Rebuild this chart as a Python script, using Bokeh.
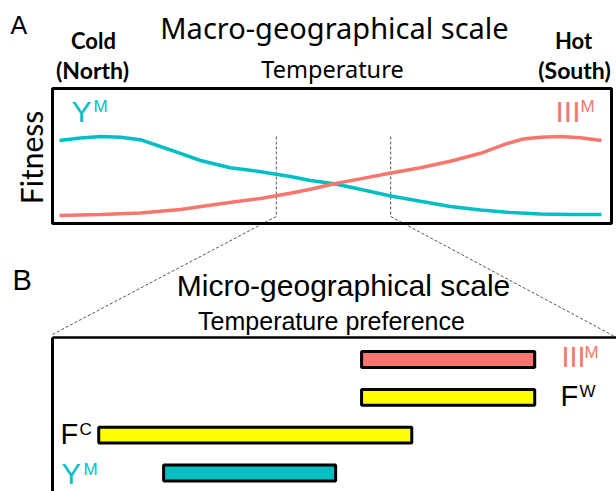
from bokeh.plotting import figure
from bokeh.models import Range1d, ColumnDataSource
from bokeh.core.properties import value
from bokeh.embed import file_html
from bokeh.resources import INLINE

# ---------------- data ----------------
# Panel A: fitness along the macro-geographical temperature gradient (0 = cold/north, 100 = hot/south)
temperature = [0, 3.9, 7.6, 11.3, 14.9, 18.6, 22.3, 26.0, 31.5, 37.1, 42.6, 46.3, 50.7,
               55.5, 60.9, 66.6, 72.1, 77.7, 83.2, 88.7, 94.3, 100]
fitness_YM = [0.95, 0.98, 1.0, 0.99, 0.96, 0.875, 0.79, 0.70, 0.61, 0.56, 0.50, 0.45, 0.41,
              0.34, 0.26, 0.19, 0.125, 0.08, 0.05, 0.03, 0.025, 0.025]
temperature_red = [0, 7.6, 14.9, 22.3, 29.7, 37.1, 42.6, 46.3, 50.7, 55.5, 60.9, 66.6,
                   72.1, 77.7, 82.5, 85.6, 88.7, 92.4, 96.1, 100]
fitness_IIIM = [0.0125, 0.025, 0.045, 0.0875, 0.16, 0.225, 0.29, 0.34, 0.41, 0.47, 0.54,
                0.61, 0.69, 0.79, 0.91, 0.97, 0.99, 1.0, 0.985, 0.95]
zoom_window = [40.0, 61.1]   # temperatures marking the micro-geographical window

# Panel B: temperature preference ranges (0-100 across the panel)
groups = ["III", "F", "F", "Y"]
group_sup = ["M", "W", "C", "M"]
pref_low = [54.8, 54.8, 8.2, 19.7]
pref_high = [85.5, 85.5, 63.7, 50.2]
row = [1, 2, 3, 4]
bar_colors = ["#F8766D", "#FFFF00", "#FFFF00", "#00BFC4"]

TEAL = "#00BFC4"
RED = "#F8766D"

# ---------------- figure (layout coords = picture pixels) ----------------
W, H = 616, 491
X0, X1 = 0, 616
Y0, Y1 = 491, 0
p = figure(width=W, height=H, output_backend="svg", toolbar_location=None,
           x_range=Range1d(X0, X1), y_range=Range1d(Y0, Y1),
           min_border=0, outline_line_color=None)
p.xaxis.visible = False
p.yaxis.visible = False
p.grid.visible = False
p.background_fill_color = "white"


def fit_range(d0, d1, p0, p1, P0, P1):
    k = (d1 - d0) / (p1 - p0)
    return Range1d(start=d0 + (P0 - p0) * k, end=d0 + (P1 - p0) * k)


# panel A scales: temperature 0..100 -> x 59..601; fitness 0..1 -> y 216..136
p.extra_x_ranges = {"tempA": fit_range(0, 100, 59, 601, X0, X1),
                    "prefB": fit_range(0, 100, 52, 616, X0, X1)}
p.extra_y_ranges = {"fit": fit_range(0, 1, 216, 136, Y0, Y1),
                    "rowB": fit_range(1, 4, 359, 472.5, Y0, Y1)}

# ---- zoom dashed lines ----
for t, corner in zip(zoom_window, [(52, 334), (618, 338)]):
    p.line([t, t], [1.0, 0.0], x_range_name="tempA", y_range_name="fit",
           line_color="#555555", line_width=1, line_dash="3 2")
    xb = 59 + t * 5.42
    p.line([xb, corner[0]], [216, corner[1]], line_color="#555555", line_width=1, line_dash="3 2")

# ---- panel A curves ----
p.line(temperature, fitness_YM, x_range_name="tempA", y_range_name="fit",
       line_color=TEAL, line_width=3.5)
p.line(temperature_red, fitness_IIIM, x_range_name="tempA", y_range_name="fit",
       line_color=RED, line_width=3.5)

# panel A box
p.quad(left=52, right=611, top=88, bottom=223, fill_color=None, line_color="black", line_width=3)

# panel B axes lines
p.line([52, 620], [337, 337], line_color="black", line_width=2.5)
p.line([52, 52], [337, 495], line_color="black", line_width=3)

# ---- panel B bars ----
src = ColumnDataSource(dict(left=pref_low, right=pref_high, y=row, color=bar_colors))
p.hbar(y="y", left="left", right="right", height=0.42, source=src,
       x_range_name="prefB", y_range_name="rowB",
       fill_color="color", line_color="black", line_width=3)

# ---- texts ----
def txt(x, y, s, size, color="black", font="Liberation Sans", style="normal",
        align="left", angle=0, k=0.38):
    # (x, y): desired baseline point; correct the renderer's downward shift
    if angle:
        x = x - k * size
    else:
        y = y - k * size
    p.text(x=[x], y=[y], text=[s], text_font=value(font), text_font_size=f"{size}px",
           text_color=color, text_font_style=style, text_align=align,
           text_baseline="alphabetic", angle=angle)

txt(10, 34, "A", 25)
txt(12, 291, "B", 29)
txt(334, 39, "Macro-geographical scale", 29, font="Noto Sans", align="center", k=0.42)
txt(332, 78, "Temperature", 23.5, font="Noto Sans", align="center", k=0.42)
txt(93, 48, "Cold", 22, font="Lato", style="bold", align="center")
txt(92, 78, "(North)", 23, font="Lato", style="bold", align="center")
txt(573, 48, "Hot", 22, font="Lato", style="bold", align="center")
txt(574, 78, "(South)", 23, font="Lato", style="bold", align="center")
txt(42, 157, "Fitness", 30, font="Lato", align="center", angle=1.5708)

txt(343, 296, "Micro-geographical scale", 30, align="center")
txt(331, 330, "Temperature preference", 25, align="center")

# series labels with superscripts
txt(71, 122, "Y", 30, color=TEAL)
txt(93, 112, "M", 17, color=TEAL)
txt(555, 122, "III", 30, color=RED)
txt(580, 112, "M", 17, color=RED)

label_pos = [(561, 368, 584, 358), (560, 407, 579, 397), (60, 445, 79, 435), (61, 485, 83, 475)]
label_cols = [RED, "black", "black", TEAL]
for g, s, (xm, ym, xs, ys), c in zip(groups, group_sup, label_pos, label_cols):
    txt(xm, ym, g, 29, color=c)
    txt(xs, ys, s, 17, color=c)

open("out.html", "w").write(file_html(p, INLINE))
